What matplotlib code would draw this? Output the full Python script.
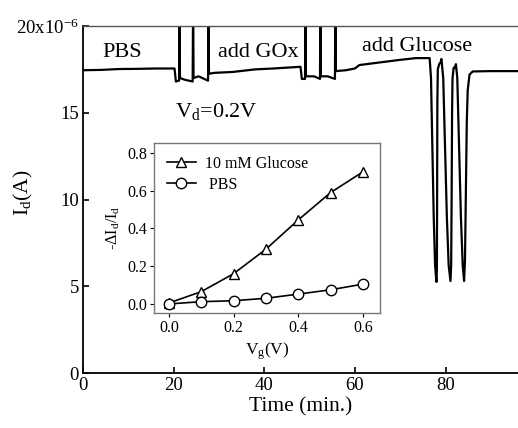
import matplotlib
matplotlib.use("Agg")
import matplotlib.pyplot as plt
import numpy as np

plt.rcParams['font.family'] = ['Liberation Serif', 'DejaVu Serif']
plt.rcParams['mathtext.fontset'] = 'custom'
plt.rcParams['mathtext.rm'] = 'Liberation Serif'
plt.rcParams['mathtext.it'] = 'Liberation Serif'

# Main trace: time (min) and drain current (uA, i.e. x10^-6 A)
time_min = [0, 4, 8, 12, 16, 20.2,
            20.5, 21.2, 21.3, 21.3, 21.4, 22.5, 24.2, 24.3, 24.3, 24.4, 25.5, 27.6, 27.7, 27.7, 27.8,
            29, 33, 38, 42, 45, 48.0,
            48.3, 49.0, 49.1, 49.1, 49.2, 51, 52.3, 52.4, 52.4, 52.5, 54, 55.6, 55.7, 55.7, 55.8,
            58, 60, 61, 64, 67, 70, 73.5, 76.5,
            76.8, 77.1, 77.4, 77.7, 78.0, 78.1, 78.15, 78.2, 78.3, 78.6, 78.9, 79.1,
            79.5, 79.9, 80.3, 80.7, 81.1, 81.25, 81.35, 81.45, 81.55, 81.8, 82.1, 82.3,
            82.6, 83.0, 83.4, 83.8, 84.1, 84.3, 84.5, 84.7, 84.9, 85.3, 86, 90, 96]
current_uA = [17.45, 17.47, 17.52, 17.53, 17.55, 17.55,
              16.8, 16.85, 21.5, 21.5, 17.0, 16.9, 16.8, 21.5, 21.5, 17.0, 17.1, 16.85, 21.5, 21.5, 17.25,
              17.3, 17.35, 17.5, 17.55, 17.6, 17.65,
              16.95, 16.95, 21.5, 21.5, 17.1, 17.1, 16.95, 21.5, 21.5, 17.1, 17.1, 16.95, 21.5, 21.5, 17.4,
              17.45, 17.55, 17.75, 17.85, 17.95, 18.05, 18.15, 18.15,
              17.0, 13.0, 9.0, 6.2, 5.25, 6.0, 10.0, 15.5, 17.5, 17.8, 17.9, 18.1,
              17.0, 13.0, 9.0, 6.2, 5.3, 6.2, 10.0, 15.0, 17.0, 17.6, 17.6, 17.8,
              17.0, 13.0, 9.0, 6.2, 5.3, 6.5, 10.5, 14.5, 16.3, 17.2, 17.38, 17.4, 17.4]

# Inset data
vg = [0.0, 0.1, 0.2, 0.3, 0.4, 0.5, 0.6]
glucose = [0.005, 0.065, 0.16, 0.29, 0.445, 0.59, 0.70]
pbs = [0.0, 0.012, 0.017, 0.03, 0.052, 0.075, 0.105]

main_yticks = [0, 5, 10, 15, 20]
main_yticklabels = ['0', '5', '10', '15', '20x10$^{-6}$']
main_xticks = [0, 20, 40, 60, 80]

fig = plt.figure(figsize=(5.18, 4.28), dpi=100)
ax = fig.add_axes([83/518, 55/428, (518-83)/518, (373-26)/428])
ax.plot(time_min, current_uA, color='black', lw=1.6, solid_joinstyle='round')
ax.set_xlim(0, 96)
ax.set_ylim(0, 20)
ax.set_yticks(main_yticks)
ax.set_yticklabels(main_yticklabels)
ax.set_xticks(main_xticks)
ax.tick_params(direction='in', length=4, width=1.2, labelsize=13.5, pad=3)
ax.spines['right'].set_visible(False)
for s in ['left', 'bottom']:
    ax.spines[s].set_linewidth(1.3)
ax.spines['top'].set_color('#555555')
ax.spines['top'].set_linewidth(1.0)
ax.set_xlabel('Time (min.)', fontsize=15.5, labelpad=2)
ax.set_ylabel('I$_\\mathrm{d}$(A)', fontsize=15.5)
ax.yaxis.set_label_coords(-0.11, 0.52)

ax.text(4.2, 18.5, 'PBS', fontsize=16, ha='left', va='center')
ax.text(29.8, 18.5, 'add GOx', fontsize=16, ha='left', va='center')
ax.text(61.6, 18.8, 'add Glucose', fontsize=16, ha='left', va='center')
ax.text(20.3, 15.1, 'V$_\\mathrm{d}$=0.2V', fontsize=16, ha='left', va='center')

# Inset
ins = fig.add_axes([154/518, (428-313)/428, (380-154)/518, (313-143)/428])
ins.plot(vg, glucose, color='black', lw=1.2, marker='^', markersize=7,
         markerfacecolor='white', markeredgecolor='black', markeredgewidth=1.0,
         label='10 mM Glucose')
ins.plot(vg, pbs, color='black', lw=1.2, marker='o', markersize=7.5,
         markerfacecolor='white', markeredgecolor='black', markeredgewidth=1.0,
         label=' PBS')
ins.set_xlim(-0.046, 0.653)
ins.set_ylim(-0.048, 0.853)
ins.set_xticks([0.0, 0.2, 0.4, 0.6])
ins.set_yticks([0.0, 0.2, 0.4, 0.6, 0.8])
ins.set_xticklabels(['0.0', '0.2', '0.4', '0.6'])
ins.set_yticklabels(['0.0', '0.2', '0.4', '0.6', '0.8'])
ins.tick_params(direction='out', length=3, width=0.8, labelsize=11.5, pad=2)
for s in ins.spines.values():
    s.set_color('#777777')
    s.set_linewidth(1.0)
ins.set_xlabel('V$_\\mathrm{g}$(V)', fontsize=12.5, labelpad=3)
ins.set_ylabel('-$\\Delta$I$_\\mathrm{d}$/I$_\\mathrm{d}$', fontsize=11.5, labelpad=4)
ins.legend(loc='upper left', frameon=False, fontsize=11.5, handlelength=1.8,
           handletextpad=0.6, borderaxespad=0.6, labelspacing=0.3, borderpad=0.2)

fig.savefig('out.png', dpi=100)
